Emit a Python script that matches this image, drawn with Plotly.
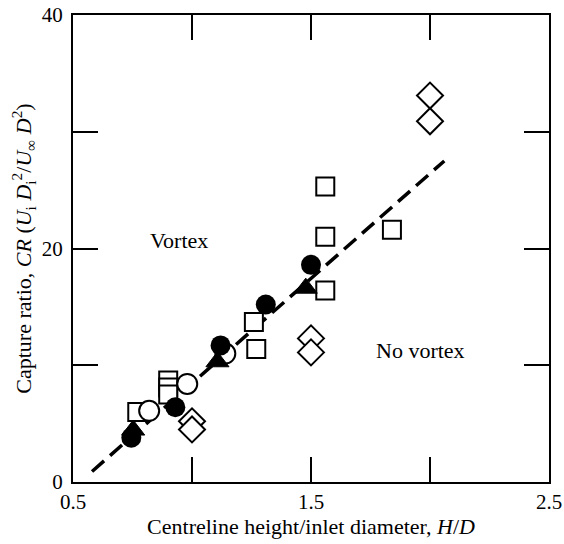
import plotly.graph_objects as go

# ---- data ----
open_sq_x = [0.77, 0.90, 0.90, 0.90, 1.26, 1.27, 1.56, 1.56, 1.56, 1.84]
open_sq_y = [6.0, 8.7, 8.1, 7.5, 13.7, 11.4, 16.4, 21.0, 25.3, 21.6]

open_dia_x = [1.00, 1.00, 1.50, 1.50, 2.00, 2.00]
open_dia_y = [5.2, 4.5, 12.3, 11.1, 33.1, 30.9]

open_circ_x = [0.82, 0.98, 1.14]
open_circ_y = [6.1, 8.4, 11.0]

filled_circ_x = [0.745, 0.93, 1.12, 1.31, 1.50]
filled_circ_y = [3.8, 6.4, 11.7, 15.2, 18.6]

filled_tri_x = [0.753, 1.107, 1.478]
filled_tri_y = [4.45, 10.3, 16.6]

fit_x = [0.58, 2.06]
fit_y = [0.9, 27.5]

x_tickvals = [0.5, 1.0, 1.5, 2.0, 2.5]
x_ticktext = ["0.5", "", "1.5", "", "2.5"]
y_tickvals = [0, 10, 20, 30, 40]
y_ticktext = ["0", "", "20", "", "40"]

FONT = "Liberation Serif, Times New Roman, serif"

fig = go.Figure()
fig.add_trace(go.Scatter(x=fit_x, y=fit_y, mode="lines",
                         line=dict(color="black", width=3.5, dash="16px,8px"),
                         showlegend=False, hoverinfo="skip"))

open_style = dict(color="white", line=dict(color="black", width=2))
fig.add_trace(go.Scatter(x=open_dia_x, y=open_dia_y, mode="markers",
                         marker=dict(symbol="diamond", size=20, **open_style), showlegend=False))
fig.add_trace(go.Scatter(x=open_sq_x, y=open_sq_y, mode="markers",
                         marker=dict(symbol="square", size=18, **open_style), showlegend=False))
fig.add_trace(go.Scatter(x=open_circ_x, y=open_circ_y, mode="markers",
                         marker=dict(symbol="circle", size=20, **open_style), showlegend=False))
fig.add_trace(go.Scatter(x=filled_circ_x, y=filled_circ_y, mode="markers",
                         marker=dict(symbol="circle", size=20, color="black"), showlegend=False))
fig.add_trace(go.Scatter(x=filled_tri_x, y=filled_tri_y, mode="markers",
                         marker=dict(symbol="triangle-up", size=20, color="black",
                                     line=dict(color="black", width=1)), showlegend=False))

fig.add_annotation(x=0.947, y=20.7, text="Vortex", showarrow=False,
                   font=dict(family=FONT, size=22, color="black"))
fig.add_annotation(x=1.96, y=11.3, text="No vortex", showarrow=False,
                   font=dict(family=FONT, size=22, color="black"))

axis_common = dict(showline=True, linecolor="black", linewidth=2, mirror="ticks",
                   ticks="inside", ticklen=25, tickwidth=2, tickcolor="black",
                   showgrid=False, zeroline=False, automargin=False,
                   tickfont=dict(family=FONT, size=21, color="black"))

fig.update_xaxes(range=[0.5, 2.5], tickvals=x_tickvals, ticktext=x_ticktext,
                 ticklabelstandoff=0,
                 title=dict(text="Centreline height/inlet diameter, <i>H</i>/<i>D</i>",
                            font=dict(family=FONT, size=22, color="black"), standoff=1),
                 **axis_common)
fig.update_yaxes(range=[0, 40], tickvals=y_tickvals, ticktext=y_ticktext,
                 ticklabelstandoff=4,
                 title=dict(text="Capture ratio, <i>CR</i> (<i>U</i><sub>i</sub> <i>D</i><sub>i</sub><sup>2</sup>/<i>U</i><sub>∞</sub> <i>D</i><sup>2</sup>)",
                            font=dict(family=FONT, size=22, color="black"), standoff=4),
                 **axis_common)

fig.update_layout(width=564, height=544,
                  margin=dict(l=73, r=15, t=15, b=62),
                  paper_bgcolor="white", plot_bgcolor="white",
                  font=dict(family=FONT, color="black"))

fig.write_html("out.html")
